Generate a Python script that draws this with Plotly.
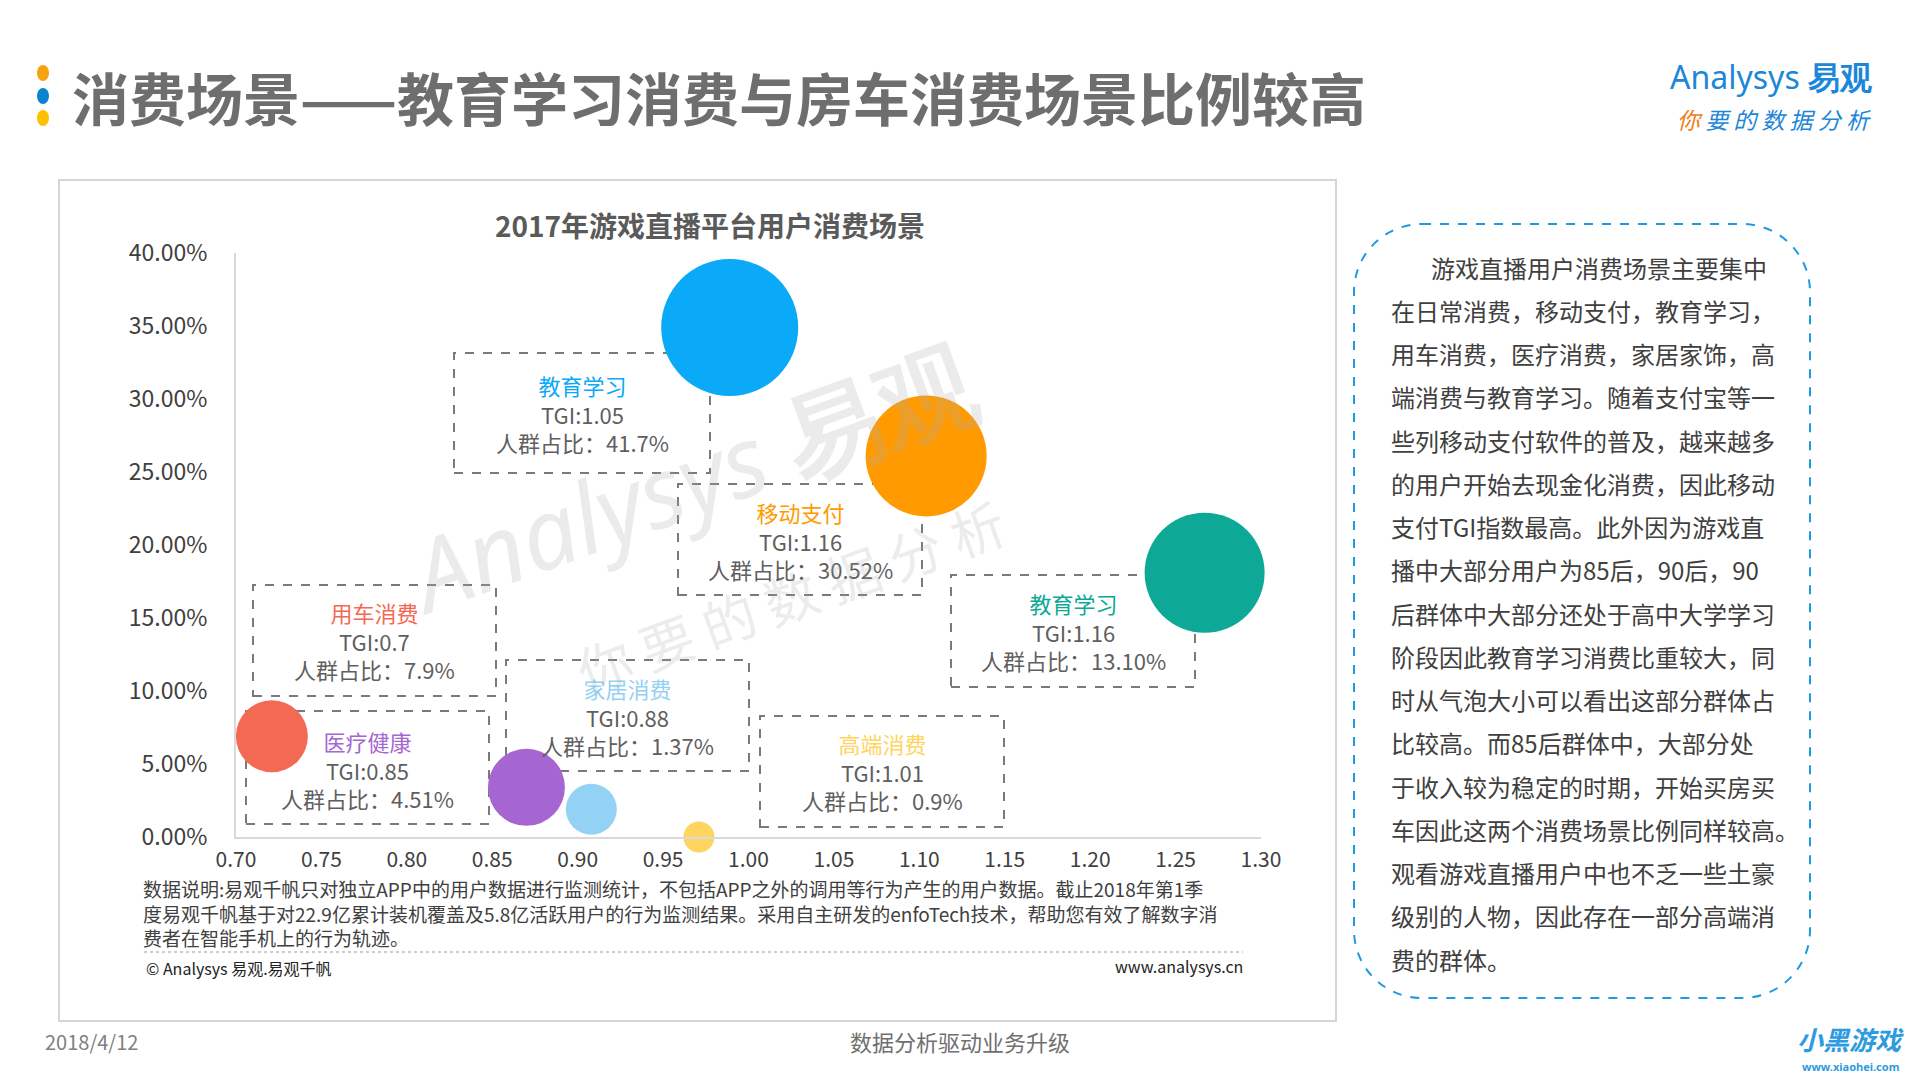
import plotly.graph_objects as go

# ---------------- data ----------------
scenes = ["教育学习", "移动支付", "教育学习", "用车消费", "医疗健康", "家居消费", "高端消费"]
tgi_x = [0.989, 1.104, 1.267, 0.721, 0.870, 0.908, 0.971]
share_y = [0.349, 0.261, 0.181, 0.069, 0.034, 0.019, 0.000]
bubble = [137, 121, 120, 72, 77, 51, 31]
tgi_labels = ["TGI:1.05", "TGI:1.16", "TGI:1.16", "TGI:0.7", "TGI:0.85", "TGI:0.88", "TGI:1.01"]
share_labels = ["人群占比：41.7%", "人群占比：30.52%", "人群占比：13.10%", "人群占比：7.9%",
                "人群占比：4.51%", "人群占比：1.37%", "人群占比：0.9%"]
x_ticks = [0.70, 0.75, 0.80, 0.85, 0.90, 0.95, 1.00, 1.05, 1.10, 1.15, 1.20, 1.25, 1.30]
y_ticks = [0.00, 0.05, 0.10, 0.15, 0.20, 0.25, 0.30, 0.35, 0.40]

page_title = "消费场景——教育学习消费与房车消费场景比例较高"
chart_title = "2017年游戏直播平台用户消费场景"
note_lines = [
    "数据说明:易观千帆只对独立APP中的用户数据进行监测统计，不包括APP之外的调用等行为产生的用户数据。截止2018年第1季",
    "度易观千帆基于对22.9亿累计装机覆盖及5.8亿活跃用户的行为监测结果。采用自主研发的enfoTech技术，帮助您有效了解数字消",
    "费者在智能手机上的行为轨迹。",
]
side_lines = [
    "游戏直播用户消费场景主要集中",
    "在日常消费，移动支付，教育学习，",
    "用车消费，医疗消费，家居家饰，高",
    "端消费与教育学习。随着支付宝等一",
    "些列移动支付软件的普及，越来越多",
    "的用户开始去现金化消费，因此移动",
    "支付TGI指数最高。此外因为游戏直",
    "播中大部分用户为85后，90后，90",
    "后群体中大部分还处于高中大学学习",
    "阶段因此教育学习消费比重较大，同",
    "时从气泡大小可以看出这部分群体占",
    "比较高。而85后群体中，大部分处",
    "于收入较为稳定的时期，开始买房买",
    "车因此这两个消费场景比例同样较高。",
    "观看游戏直播用户中也不乏一些土豪",
    "级别的人物，因此存在一部分高端消",
    "费的群体。",
]

# ---------------- styles / layout ----------------
colors = ["#0AAAF9", "#FF9A00", "#0DA996", "#F36A54", "#A566D1", "#93D1F5", "#FFD45F"]
FONT = "Noto Sans CJK SC"
W, H = 1920, 1080
L, R, T, B = 236, 1261, 253, 837


def px(x):
    return (x - L) / (R - L)


def py(y):
    return (B - y) / (B - T)


# label boxes (pixel): left, top, right, bottom, text center x, text center y
boxes = [
    (454, 353, 710, 473, 582, 413),
    (678, 484, 922, 595, 800, 540),
    (951, 575, 1195, 687, 1073, 631),
    (253, 585, 496, 696, 374, 640),
    (246, 711, 489, 824, 367, 769),
    (506, 660, 749, 771, 627, 716),
    (760, 716, 1004, 827, 882, 771),
]

fig = go.Figure()
fig.add_trace(go.Scatter(
    x=tgi_x, y=share_y, mode="markers",
    marker=dict(size=bubble, sizemode="diameter", color=colors, opacity=1, line=dict(width=0)),
    cliponaxis=False, hoverinfo="skip", showlegend=False,
))

shapes = []
annotations = []

# outer chart frame
shapes.append(dict(type="rect", xref="paper", yref="paper",
                   x0=px(59), x1=px(1336), y0=py(180), y1=py(1021),
                   line=dict(color="#D6D6D6", width=2), layer="below"))

# label boxes
for i, (l, t, r, b, cx, cy) in enumerate(boxes):
    shapes.append(dict(type="rect", xref="paper", yref="paper",
                       x0=px(l), x1=px(r), y0=py(b), y1=py(t),
                       line=dict(color="#7A7A7A", width=2, dash="dash"), layer="below"))
    txt = (f"<span style='color:{colors[i]}'>{scenes[i]}</span><br>"
           f"{tgi_labels[i]}<br>{share_labels[i]}")
    annotations.append(dict(x=px(cx), y=py(cy), xref="paper", yref="paper",
                            text=txt, showarrow=False, xanchor="center", yanchor="middle",
                            align="center", borderpad=0,
                            font=dict(family=FONT, size=22, color="#5F5F5F")))

# watermark
annotations.append(dict(x=px(690), y=py(478), xref="paper", yref="paper",
                        text="<i>Analysys</i> <b>易观</b>", showarrow=False, textangle=-20,
                        font=dict(family="Noto Sans", size=98, color="rgba(170,170,170,0.24)")))
annotations.append(dict(x=px(790), y=py(595), xref="paper", yref="paper",
                        text="你 要 的 数 据 分 析", showarrow=False, textangle=-20,
                        font=dict(family=FONT, size=54, color="rgba(170,170,170,0.22)")))

# page title
annotations.append(dict(x=px(70), y=py(96), xref="paper", yref="paper", text="<b>" + page_title + "</b>",
                        showarrow=False, xanchor="left", yanchor="middle",
                        font=dict(family=FONT, size=57, color="#6E6E6E")))
for yy, c in ((73, "#F7A20F"), (96, "#0A84D0"), (118, "#FFC000")):
    shapes.append(dict(type="circle", xref="paper", yref="paper",
                       x0=px(37), x1=px(49), y0=py(yy + 8), y1=py(yy - 8),
                       fillcolor=c, line=dict(width=0)))

# logo
annotations.append(dict(x=px(1873), y=py(77), xref="paper", yref="paper",
                        text="Analysys <b>易观</b>", showarrow=False, xanchor="right", yanchor="middle",
                        borderpad=0, font=dict(family="Noto Sans", size=32, color="#1C87D9")))
annotations.append(dict(x=px(1873), y=py(119), xref="paper", yref="paper",
                        text="<i><span style='color:#F07D18'>你</span> 要 的 数 据 分 析</i>", showarrow=False,
                        xanchor="right", yanchor="middle", borderpad=0,
                        font=dict(family=FONT, size=23, color="#1C87D9")))

# chart title
annotations.append(dict(x=px(710), y=py(225), xref="paper", yref="paper", text="<b>" + chart_title + "</b>",
                        showarrow=False, xanchor="center", yanchor="middle",
                        font=dict(family=FONT, size=28, color="#5A5A5A")))

# notes
annotations.append(dict(x=px(142), y=py(913), xref="paper", yref="paper", text="<br>".join(note_lines),
                        showarrow=False, xanchor="left", yanchor="middle", align="left", borderpad=0,
                        font=dict(family=FONT, size=19, color="#404040")))
shapes.append(dict(type="line", xref="paper", yref="paper", x0=px(144), x1=px(1243), y0=py(952), y1=py(952),
                   line=dict(color="#9A9A9A", width=1, dash="dot")))
annotations.append(dict(x=px(144), y=py(968), xref="paper", yref="paper", text="© Analysys 易观.易观千帆",
                        showarrow=False, xanchor="left", yanchor="middle",
                        font=dict(family=FONT, size=16, color="#222222")))
annotations.append(dict(x=px(1245), y=py(966), xref="paper", yref="paper", text="www.analysys.cn",
                        showarrow=False, xanchor="right", yanchor="middle",
                        font=dict(family=FONT, size=16, color="#222222")))

# right-side rounded dashed box
bl, bt, br, bb, rad = 1354, 224, 1810, 998, 68
k = 0.5523 * rad


def P(x, y):
    return f"{px(x):.5f},{py(y):.5f}"


path = (f"M {P(bl + rad, bt)} L {P(br - rad, bt)} "
        f"C {P(br - rad + k, bt)} {P(br, bt + rad - k)} {P(br, bt + rad)} "
        f"L {P(br, bb - rad)} "
        f"C {P(br, bb - rad + k)} {P(br - rad + k, bb)} {P(br - rad, bb)} "
        f"L {P(bl + rad, bb)} "
        f"C {P(bl + rad - k, bb)} {P(bl, bb - rad + k)} {P(bl, bb - rad)} "
        f"L {P(bl, bt + rad)} "
        f"C {P(bl, bt + rad - k)} {P(bl + rad - k, bt)} {P(bl + rad, bt)} Z")
shapes.append(dict(type="path", xref="paper", yref="paper", path=path,
                   line=dict(color="#1E9BE0", width=2, dash="dash")))
for i, line in enumerate(side_lines):
    annotations.append(dict(x=px(1430 if i == 0 else 1390), y=py(267 + 43.25 * i), xref="paper", yref="paper",
                            text=line, showarrow=False, xanchor="left", yanchor="middle", borderpad=0,
                            font=dict(family=FONT, size=24, color="#404040")))

# footer
annotations.append(dict(x=px(43), y=py(1041), xref="paper", yref="paper", text="2018/4/12",
                        showarrow=False, xanchor="left", yanchor="middle",
                        font=dict(family=FONT, size=20, color="#808080")))
annotations.append(dict(x=px(960), y=py(1041), xref="paper", yref="paper", text="数据分析驱动业务升级",
                        showarrow=False, xanchor="center", yanchor="middle",
                        font=dict(family=FONT, size=22, color="#707070")))
annotations.append(dict(x=px(1850), y=py(1038), xref="paper", yref="paper", text="<b><i>小黑游戏</i></b>",
                        showarrow=False, xanchor="center", yanchor="middle",
                        font=dict(family=FONT, size=26, color="#2E9BDF")))
annotations.append(dict(x=px(1850), y=py(1066), xref="paper", yref="paper", text="<b>www.xiaohei.com</b>",
                        showarrow=False, xanchor="center", yanchor="middle",
                        font=dict(family="Noto Sans", size=11, color="#2E9BDF")))

fig.update_layout(
    width=W, height=H, autosize=False,
    margin=dict(l=L, r=W - R, t=T, b=H - B, pad=0),
    paper_bgcolor="white", plot_bgcolor="white",
    showlegend=False,
    shapes=shapes, annotations=annotations,
    xaxis=dict(range=[0.70, 1.30], tickvals=x_ticks, tickformat=".2f", showgrid=False, zeroline=False,
               showline=True, linecolor="#D9D9D9", linewidth=2, ticks="", ticklabelstandoff=3,
               tickfont=dict(family=FONT, size=21, color="#404040"), fixedrange=True),
    yaxis=dict(range=[0, 0.40], tickvals=y_ticks, tickformat=".2%", showgrid=False, zeroline=False,
               showline=True, linecolor="#D9D9D9", linewidth=2, ticks="", ticklabelstandoff=22,
               tickfont=dict(family=FONT, size=23, color="#404040"), fixedrange=True),
)

fig.write_html("out.html", config={"displayModeBar": False},
               post_script="document.body.style.margin='0';document.body.style.overflow='hidden';")
